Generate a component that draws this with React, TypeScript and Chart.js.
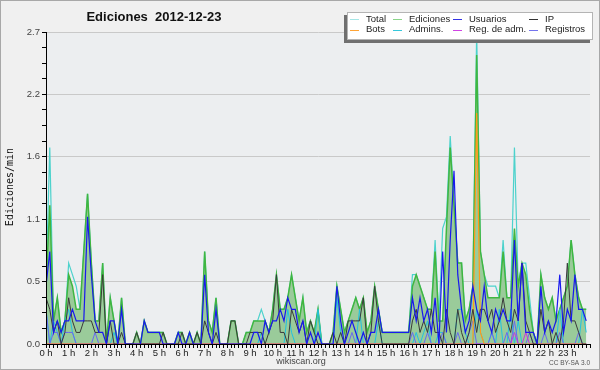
import React, { useEffect, useRef } from 'react';
import { Chart, registerables } from 'chart.js';

Chart.register(...registerables);

// ---- data: 10-minute bins, edits per minute ----
const HOUR_LABELS = Array.from({ length: 24 }, (_, h) => `${h} h`);
const Y_TICK_LABELS = ['0.0', '0.5', '1.1', '1.6', '2.2', '2.7'];
const Y_MAX = 2.7;
const BINS_PER_HOUR = 6;

const TOTAL = [
  0.5, 1.7, 0.2, 0.4, 0.1, 0.2, 0.7, 0.6, 0.5, 0.3, 0.8, 1.3,
  0.7, 0.2, 0.2, 0.7, 0.0, 0.4, 0.2, 0.0, 0.4, 0.0, 0.0, 0.0,
  0.1, 0.0, 0.2, 0.1, 0.1, 0.1, 0.1, 0.1, 0.0, 0.0, 0.0, 0.1,
  0.1, 0.0, 0.1, 0.0, 0.1, 0.0, 0.8, 0.2, 0.1, 0.4, 0.0, 0.0,
  0.0, 0.2, 0.2, 0.0, 0.0, 0.1, 0.1, 0.2, 0.2, 0.3, 0.2, 0.1,
  0.3, 0.6, 0.3, 0.3, 0.4, 0.6, 0.4, 0.2, 0.4, 0.1, 0.2, 0.1,
  0.3, 0.0, 0.0, 0.0, 0.1, 0.5, 0.3, 0.1, 0.2, 0.3, 0.4, 0.3,
  0.4, 0.1, 0.2, 0.5, 0.3, 0.1, 0.1, 0.1, 0.1, 0.1, 0.1, 0.1,
  0.1, 0.6, 0.6, 0.5, 0.4, 0.3, 0.3, 0.9, 0.2, 1.0, 1.1, 1.8,
  1.2, 0.7, 0.7, 0.2, 0.3, 0.5, 2.7, 0.8, 0.6, 0.5, 0.5, 0.5,
  0.4, 0.9, 0.4, 0.4, 1.7, 0.5, 0.7, 0.7, 0.4, 0.1, 0.0, 0.6,
  0.4, 0.3, 0.4, 0.2, 0.3, 0.4, 0.5, 0.9, 0.6, 0.4, 0.3, 0.3,
];

const EDICIONES = [
  0.5, 1.2, 0.2, 0.4, 0.1, 0.2, 0.6, 0.5, 0.3, 0.3, 0.8, 1.3,
  0.7, 0.2, 0.2, 0.7, 0.0, 0.4, 0.2, 0.0, 0.4, 0.0, 0.0, 0.0,
  0.1, 0.0, 0.2, 0.1, 0.1, 0.1, 0.1, 0.1, 0.0, 0.0, 0.0, 0.1,
  0.1, 0.0, 0.1, 0.0, 0.1, 0.0, 0.8, 0.2, 0.1, 0.4, 0.0, 0.0,
  0.0, 0.2, 0.2, 0.0, 0.0, 0.1, 0.1, 0.2, 0.2, 0.2, 0.2, 0.1,
  0.3, 0.6, 0.3, 0.3, 0.4, 0.6, 0.4, 0.2, 0.4, 0.1, 0.2, 0.1,
  0.3, 0.0, 0.0, 0.0, 0.1, 0.5, 0.3, 0.1, 0.2, 0.3, 0.4, 0.3,
  0.4, 0.1, 0.2, 0.5, 0.3, 0.1, 0.1, 0.1, 0.1, 0.1, 0.1, 0.1,
  0.1, 0.5, 0.6, 0.5, 0.4, 0.3, 0.3, 0.8, 0.2, 0.2, 1.0, 1.7,
  1.2, 0.7, 0.7, 0.2, 0.3, 0.5, 2.5, 0.8, 0.6, 0.4, 0.4, 0.4,
  0.4, 0.8, 0.4, 0.4, 1.0, 0.5, 0.7, 0.6, 0.3, 0.1, 0.0, 0.6,
  0.4, 0.3, 0.4, 0.2, 0.3, 0.4, 0.5, 0.9, 0.6, 0.4, 0.3, 0.3,
];

const USUARIOS = [
  0.5, 0.8, 0.1, 0.2, 0.1, 0.2, 0.2, 0.3, 0.2, 0.2, 0.2, 1.1,
  0.6, 0.2, 0.1, 0.1, 0.0, 0.2, 0.2, 0.0, 0.3, 0.0, 0.0, 0.0,
  0.0, 0.0, 0.2, 0.1, 0.1, 0.1, 0.1, 0.0, 0.0, 0.0, 0.0, 0.1,
  0.0, 0.0, 0.1, 0.0, 0.0, 0.0, 0.6, 0.1, 0.0, 0.3, 0.0, 0.0,
  0.0, 0.0, 0.0, 0.0, 0.0, 0.0, 0.0, 0.1, 0.1, 0.0, 0.2, 0.1,
  0.2, 0.2, 0.3, 0.2, 0.4, 0.3, 0.3, 0.1, 0.2, 0.0, 0.1, 0.0,
  0.1, 0.0, 0.0, 0.0, 0.0, 0.5, 0.2, 0.0, 0.1, 0.2, 0.1, 0.0,
  0.1, 0.0, 0.1, 0.1, 0.3, 0.1, 0.1, 0.1, 0.1, 0.1, 0.1, 0.1,
  0.1, 0.4, 0.2, 0.4, 0.2, 0.3, 0.1, 0.4, 0.0, 0.8, 0.1, 0.9,
  1.5, 0.6, 0.3, 0.1, 0.2, 0.5, 0.3, 0.2, 0.5, 0.2, 0.1, 0.3,
  0.2, 0.3, 0.2, 0.2, 0.9, 0.2, 0.7, 0.1, 0.1, 0.1, 0.0, 0.5,
  0.1, 0.2, 0.1, 0.2, 0.6, 0.1, 0.3, 0.2, 0.6, 0.3, 0.3, 0.2,
];

const IP = [
  0.4, 0.3, 0.1, 0.2, 0.0, 0.1, 0.4, 0.2, 0.1, 0.1, 0.2, 0.2,
  0.2, 0.1, 0.1, 0.6, 0.0, 0.2, 0.0, 0.0, 0.1, 0.0, 0.0, 0.0,
  0.1, 0.0, 0.0, 0.0, 0.0, 0.0, 0.0, 0.1, 0.0, 0.0, 0.0, 0.0,
  0.1, 0.0, 0.0, 0.0, 0.1, 0.0, 0.2, 0.1, 0.0, 0.1, 0.0, 0.0,
  0.0, 0.2, 0.2, 0.0, 0.0, 0.0, 0.1, 0.1, 0.1, 0.1, 0.0, 0.1,
  0.2, 0.6, 0.1, 0.1, 0.0, 0.3, 0.2, 0.1, 0.2, 0.0, 0.2, 0.1,
  0.0, 0.0, 0.0, 0.0, 0.1, 0.0, 0.1, 0.0, 0.2, 0.2, 0.2, 0.2,
  0.4, 0.0, 0.1, 0.5, 0.2, 0.0, 0.0, 0.0, 0.0, 0.0, 0.0, 0.0,
  0.0, 0.2, 0.3, 0.1, 0.2, 0.1, 0.3, 0.1, 0.1, 0.0, 0.3, 0.1,
  0.0, 0.3, 0.1, 0.0, 0.1, 0.3, 0.1, 0.3, 0.3, 0.2, 0.3, 0.1,
  0.2, 0.4, 0.2, 0.1, 0.3, 0.2, 0.7, 0.2, 0.1, 0.0, 0.0, 0.3,
  0.1, 0.2, 0.0, 0.1, 0.0, 0.2, 0.7, 0.2, 0.2, 0.1, 0.0, 0.0,
];

const BOTS = [
  0, 0, 0, 0, 0, 0, 0, 0, 0, 0, 0, 0,
  0, 0, 0, 0, 0, 0, 0, 0, 0, 0, 0, 0,
  0, 0, 0, 0, 0, 0, 0, 0, 0, 0, 0, 0,
  0, 0, 0, 0, 0, 0, 0, 0, 0, 0, 0, 0,
  0, 0, 0, 0, 0, 0, 0, 0, 0, 0, 0, 0,
  0, 0, 0, 0, 0, 0, 0, 0, 0, 0, 0, 0,
  0, 0, 0, 0, 0, 0, 0, 0, 0, 0, 0, 0,
  0, 0, 0, 0, 0, 0, 0, 0, 0, 0, 0, 0,
  0, 0, 0, 0, 0, 0, 0, 0, 0, 0, 0, 0,
  0, 0, 0, 0, 0, 0, 2.0, 0.1, 0, 0, 0, 0,
  0, 0, 0, 0, 0, 0, 0, 0, 0, 0, 0, 0,
  0, 0, 0, 0, 0, 0, 0, 0, 0, 0, 0, 0,
];

const ADMINS = [
  0.3, 0.0, 0.2, 0.1, 0.0, 0.2, 0.3, 0.1, 0.0, 0.0, 0.0, 0.0,
  0.0, 0.0, 0.0, 0.0, 0.0, 0.0, 0.1, 0.0, 0.0, 0.0, 0.0, 0.0,
  0, 0, 0, 0, 0, 0, 0, 0, 0, 0, 0, 0,
  0, 0, 0, 0, 0, 0, 0, 0, 0, 0, 0, 0,
  0, 0, 0, 0, 0, 0, 0, 0, 0, 0.1, 0, 0,
  0, 0, 0, 0, 0.3, 0.1, 0, 0, 0, 0, 0, 0,
  0.3, 0, 0, 0, 0, 0.4, 0.1, 0, 0, 0, 0, 0.3,
  0, 0, 0, 0, 0.2, 0, 0, 0, 0, 0, 0, 0,
  0, 0, 0.1, 0, 0.1, 0.2, 0, 0, 0.1, 0.1, 0, 0,
  0, 0.3, 0.3, 0.1, 0, 0, 0.3, 0.1, 0, 0, 0.1, 0,
  0.3, 0, 0, 0.3, 0, 0.2, 0, 0, 0, 0, 0, 0,
  0, 0, 0, 0, 0.3, 0, 0, 0, 0, 0, 0.3, 0.1,
];

const REG_ADM = [
  0, 0, 0, 0, 0, 0, 0, 0, 0, 0, 0, 0,
  0, 0, 0, 0, 0, 0, 0, 0, 0, 0, 0, 0,
  0, 0, 0, 0, 0, 0, 0, 0, 0, 0, 0, 0,
  0, 0, 0, 0, 0, 0, 0, 0, 0, 0, 0, 0,
  0, 0, 0, 0, 0, 0, 0, 0, 0, 0, 0, 0,
  0, 0, 0, 0, 0, 0, 0, 0, 0, 0, 0, 0,
  0, 0, 0, 0, 0, 0, 0, 0, 0, 0, 0, 0,
  0, 0, 0, 0, 0, 0, 0, 0, 0, 0, 0, 0,
  0, 0, 0, 0, 0, 0, 0, 0, 0, 0, 0, 0,
  0, 0, 0, 0, 0, 0, 0, 0, 0, 0, 0, 0,
  0, 0, 0, 0, 0.1, 0, 0, 0.1, 0, 0, 0, 0,
  0, 0, 0, 0, 0, 0, 0, 0, 0, 0, 0, 0,
];

const REGISTROS = [
  0.3, 0.0, 0.1, 0.1, 0.0, 0.1, 0.1, 0.1, 0.0, 0.0, 0.0, 0.0,
  0.0, 0.1, 0, 0, 0, 0, 0, 0, 0, 0, 0, 0,
  0, 0, 0, 0, 0, 0, 0, 0, 0, 0, 0, 0,
  0, 0, 0, 0, 0, 0, 0, 0, 0, 0, 0, 0,
  0, 0, 0, 0, 0, 0, 0, 0, 0, 0, 0, 0,
  0, 0, 0, 0, 0, 0, 0, 0, 0, 0, 0, 0,
  0, 0, 0, 0, 0, 0, 0, 0, 0, 0.1, 0, 0,
  0, 0, 0, 0, 0, 0, 0, 0, 0, 0, 0, 0,
  0, 0.1, 0, 0, 0, 0.1, 0, 0, 0, 0.1, 0, 0,
  0, 0.1, 0, 0, 0.1, 0.2, 0, 0, 0, 0, 0.1, 0,
  0, 0, 0.1, 0, 0.2, 0, 0, 0, 0.1, 0, 0, 0,
  0.1, 0, 0, 0, 0.1, 0, 0, 0, 0, 0.1, 0, 0,
];

const SERIES_NAMES = ['Total', 'Ediciones', 'Usuarios', 'IP', 'Bots', 'Admins.', 'Reg. de adm.', 'Registros'];

const toPoints = (arr: number[]) => arr.map((v, i) => ({ x: i / BINS_PER_HOUR, y: v }));

const FONT = '"Liberation Sans", Arial, sans-serif';

const LEGEND_COLORS: Record<string, string> = {
  'Total': '#a6e6e6',
  'Ediciones': '#8ad48a',
  'Usuarios': '#3434e4',
  'IP': '#333333',
  'Bots': '#ffa436',
  'Admins.': '#36c8dc',
  'Reg. de adm.': '#d044e4',
  'Registros': '#7474ee',
};

const decorPlugin = {
  id: 'decor',
  beforeDraw(chart: any) {
    const { ctx, chartArea: a, width, height } = chart;
    ctx.save();
    ctx.fillStyle = '#f0f0f0';
    ctx.fillRect(0, 0, width, height);
    ctx.fillStyle = '#eceef0';
    ctx.fillRect(a.left, a.top, a.right - a.left, a.bottom - a.top);
    ctx.strokeStyle = '#a8a8a8';
    ctx.lineWidth = 1;
    ctx.strokeRect(0.5, 0.5, width - 1, height - 1);
    ctx.restore();
  },
  afterDatasetsDraw(chart: any) {
    const { ctx, chartArea: a } = chart;
    ctx.save();
    ctx.strokeStyle = '#000';
    ctx.lineWidth = 1;
    ctx.beginPath();
    ctx.moveTo(a.left + 0.5, a.top);
    ctx.lineTo(a.left + 0.5, a.bottom + 0.5);
    ctx.lineTo(a.right, a.bottom + 0.5);
    ctx.stroke();
    ctx.restore();
  },
  afterDraw(chart: any) {
    const { ctx } = chart;
    ctx.save();
    // title
    ctx.fillStyle = '#111';
    ctx.font = `bold 13px ${FONT}`;
    ctx.textAlign = 'center';
    ctx.textBaseline = 'middle';
    ctx.fillText('Ediciones  2012-12-23', 154, 17);

    // y title
    ctx.save();
    ctx.translate(10, 187);
    ctx.rotate(-Math.PI / 2);
    ctx.font = '10px "DejaVu Sans Mono", monospace';
    ctx.fillStyle = '#111';
    ctx.fillText('Ediciones/min', 0, 0);
    ctx.restore();

    // footer
    ctx.font = `9px ${FONT}`;
    ctx.fillStyle = '#444';
    ctx.textAlign = 'center';
    ctx.fillText('wikiscan.org', 301, 362);
    ctx.font = `6.5px ${FONT}`;
    ctx.textAlign = 'right';
    ctx.fillStyle = '#555';
    ctx.fillText('CC BY-SA 3.0', 590, 363);

    // legend
    ctx.fillStyle = '#707070';
    ctx.fillRect(344, 15, 246, 28);
    ctx.fillStyle = '#ffffff';
    ctx.fillRect(347, 12, 246, 28);
    ctx.strokeStyle = '#b4b4b4';
    ctx.lineWidth = 1;
    ctx.strokeRect(347.5, 12.5, 245, 27);
    const cols = [350, 393, 453, 529];
    const rows = [19, 29.5];
    const layout = [
      ['Total', 'Ediciones', 'Usuarios', 'IP'],
      ['Bots', 'Admins.', 'Reg. de adm.', 'Registros'],
    ];
    ctx.font = `9.5px ${FONT}`;
    ctx.textAlign = 'left';
    ctx.textBaseline = 'middle';
    layout.forEach((row, r) => {
      row.forEach((name, c) => {
        const x = cols[c];
        const y = rows[r];
        ctx.strokeStyle = LEGEND_COLORS[name];
        ctx.lineWidth = 1;
        ctx.beginPath();
        ctx.moveTo(x, Math.round(y) + 0.5);
        ctx.lineTo(x + 9, Math.round(y) + 0.5);
        ctx.stroke();
        ctx.fillStyle = '#222';
        ctx.fillText(name, x + 16, y);
      });
    });
    ctx.restore();
  },
};

export default function App() {
  const canvasRef = useRef<HTMLCanvasElement | null>(null);

  useEffect(() => {
    document.body.style.margin = '0';
    const canvas = canvasRef.current;
    if (!canvas) return;

    const line = (label: string, data: number[], color: string, order: number, width = 1, extra: any = {}) => ({
      label,
      data: toPoints(data),
      borderColor: color,
      backgroundColor: color,
      borderWidth: width,
      pointRadius: 0,
      tension: 0,
      fill: false,
      order,
      ...extra,
    });

    const chart = new Chart(canvas, {
      type: 'line',
      data: {
        datasets: [
          line(SERIES_NAMES[0], TOTAL, '#4cd2cc', 9, 1.2),
          line(SERIES_NAMES[1], EDICIONES, '#40b640', 8, 1.5, { fill: 'origin', backgroundColor: '#9acb9a' }),
          line(SERIES_NAMES[5], ADMINS, '#22c2e0', 7, 1),
          line(SERIES_NAMES[7], REGISTROS, '#6868f0', 6, 1),
          line(SERIES_NAMES[6], REG_ADM, '#cc33dd', 5, 1),
          line(SERIES_NAMES[4], BOTS, '#ff9a1a', 4, 1.2),
          line(SERIES_NAMES[3], IP, '#3a3a3a', 3, 1),
          line(SERIES_NAMES[2], USUARIOS, '#1818ee', 2, 1.2),
        ],
      },
      options: {
        animation: false,
        responsive: true,
        maintainAspectRatio: false,
        devicePixelRatio: 1,
        layout: { padding: { top: 32, right: 10, left: 0, bottom: 0 } },
        plugins: {
          legend: { display: false },
          title: { display: false },
          tooltip: { enabled: false },
        },
        scales: {
          x: {
            type: 'linear',
            min: 0,
            max: 24,
            afterFit: (s: any) => { s.height = 26; },
            afterBuildTicks: (s: any) => {
              s.ticks = Array.from({ length: 24 * BINS_PER_HOUR + 1 }, (_, k) => ({ value: k / BINS_PER_HOUR }));
            },
            grid: {
              drawOnChartArea: false,
              drawTicks: true,
              tickLength: 4,
              tickColor: '#000',
              color: '#000',
            },
            border: { display: true, color: '#000', width: 1 },
            ticks: {
              autoSkip: false,
              maxRotation: 0,
              minRotation: 0,
              padding: 0,
              color: '#222',
              font: { size: 9.5, family: FONT },
              callback: (v: any, idx: number) => {
                if (idx % BINS_PER_HOUR !== 0) return '';
                const h = idx / BINS_PER_HOUR;
                return h < HOUR_LABELS.length ? HOUR_LABELS[h] : '';
              },
            },
          },
          y: {
            type: 'linear',
            min: 0,
            max: Y_MAX,
            afterFit: (s: any) => { s.width = 46; },
            afterBuildTicks: (s: any) => {
              s.ticks = Array.from({ length: 21 }, (_, k) => ({ value: (Y_MAX / 20) * k }));
            },
            grid: {
              drawOnChartArea: true,
              tickLength: 4,
              color: (c: any) => (c.index % 4 === 0 && c.index > 0 ? '#c9c9c9' : 'rgba(0,0,0,0)'),
              tickColor: '#000',
            },
            border: { display: true, color: '#000', width: 1 },
            ticks: {
              autoSkip: false,
              padding: 2,
              color: '#444',
              font: { size: 9.5, family: FONT },
              callback: (v: any, idx: number) => (idx % 4 === 0 ? Y_TICK_LABELS[idx / 4] : ''),
            },
          },
        },
      },
      plugins: [decorPlugin],
    });

    return () => chart.destroy();
  }, []);

  return (
    <div style={{ width: 600, height: 370, position: 'relative' }}>
      <canvas ref={canvasRef} />
    </div>
  );
}
